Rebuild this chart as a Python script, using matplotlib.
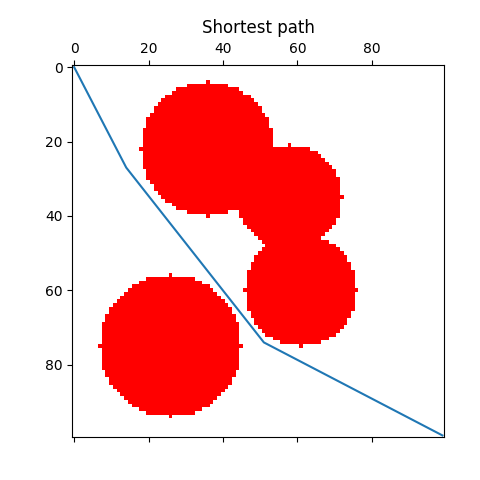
import numpy as np
import matplotlib
matplotlib.use('Agg')
import matplotlib.pyplot as plt
from matplotlib.colors import ListedColormap

# grid size and circular obstacles (column, row, radius)
grid_size = 100
obs_cols = [36, 58, 61, 26]
obs_rows = [22, 35, 60, 75]
obs_radii = [18, 14, 15, 19]

# shortest path vertices (column, row)
path_cols = [0, 14, 51, 99]
path_rows = [0, 27, 74, 99]

rr, cc = np.mgrid[0:grid_size, 0:grid_size]
grid = np.zeros((grid_size, grid_size))
for c, r, rad in zip(obs_cols, obs_rows, obs_radii):
    grid[(cc - c) ** 2 + (rr - r) ** 2 <= rad ** 2] = 1

fig = plt.figure(figsize=(4.8, 4.8), dpi=100)
ax = fig.add_axes([0.1506, 0.089, 0.775, 0.775])
ax.matshow(grid, cmap=ListedColormap(['white', 'red']))
ax.plot(path_cols, path_rows)
ax.set_title('Shortest path')
ax.set_xticks([0, 20, 40, 60, 80])
ax.set_yticks([0, 20, 40, 60, 80])
ax.set_xlim(-0.5, grid_size - 0.5)
ax.set_ylim(grid_size - 0.5, -0.5)

plt.savefig('out.png', dpi=100)
